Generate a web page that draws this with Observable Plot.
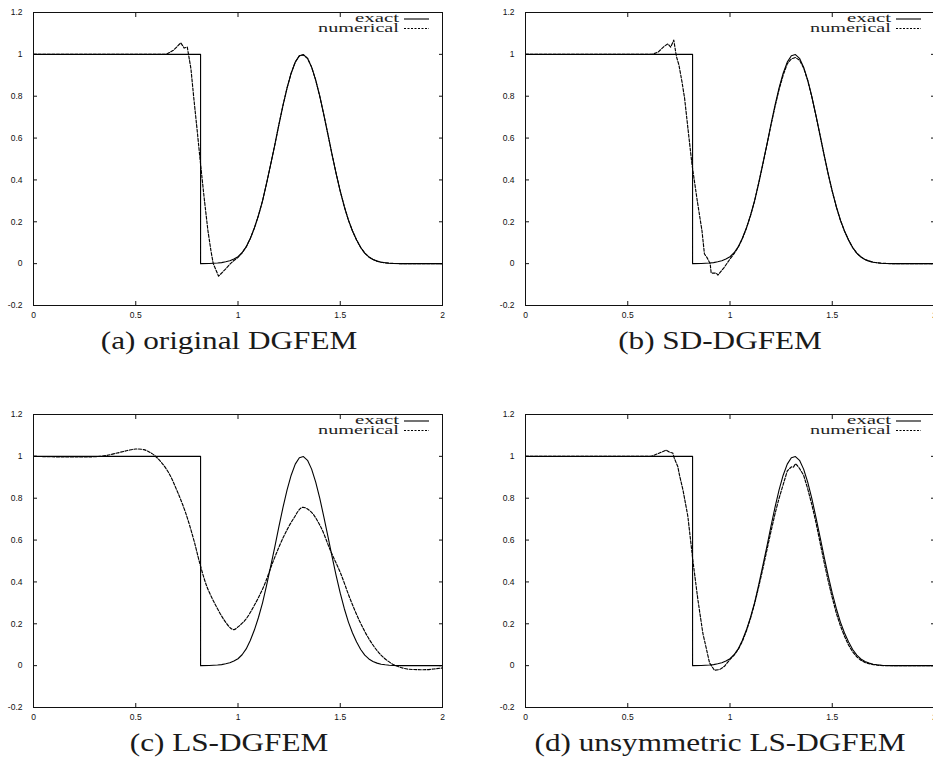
<!DOCTYPE html>
<html><head><meta charset="utf-8">
<script src="https://cdn.jsdelivr.net/npm/d3@7"></script>
<script src="https://cdn.jsdelivr.net/npm/@observablehq/plot@0.6"></script>
<style>
html,body{margin:0;padding:0;background:#fff;}
#root{position:relative;width:933px;height:769px;overflow:hidden;background:#fff;}
.panel{position:absolute;}
.cap{position:absolute;font-family:"Liberation Serif",serif;font-size:26px;line-height:26px;color:#1a1a1a;white-space:nowrap;transform:translateX(-50%) scaleX(1.2);}
</style></head><body><div id="root"></div>
<script>
// ---- axis ticks ----
const xTicks = [0, 0.5, 1, 1.5, 2];
const yTicks = [-0.2, 0, 0.2, 0.4, 0.6, 0.8, 1, 1.2];
const captions = ["(a) original DGFEM", "(b) SD-DGFEM", "(c) LS-DGFEM", "(d) unsymmetric LS-DGFEM"];
const legendLabels = ["exact", "numerical"];

// ---- exact solution (same in all panels) ----
const exactX = [0, 0.817, 0.817, 0.86, 0.90, 0.92, 0.94, 0.96, 0.98, 1.00, 1.02, 1.04, 1.06, 1.08, 1.10, 1.12, 1.14, 1.16, 1.18, 1.20, 1.22, 1.24, 1.26, 1.28, 1.30, 1.32, 1.34, 1.36, 1.38, 1.40, 1.42, 1.44, 1.46, 1.48, 1.50, 1.52, 1.54, 1.56, 1.58, 1.60, 1.62, 1.64, 1.66, 1.68, 1.70, 1.72, 1.74, 1.76, 1.80, 2.0];
const exactY = [1, 1, 0, 0.001, 0.003, 0.005, 0.009, 0.014, 0.022, 0.033, 0.052, 0.08, 0.12, 0.17, 0.23, 0.30, 0.385, 0.475, 0.568, 0.664, 0.756, 0.840, 0.910, 0.963, 0.993, 0.999, 0.981, 0.939, 0.877, 0.799, 0.710, 0.616, 0.521, 0.430, 0.346, 0.272, 0.208, 0.156, 0.113, 0.077, 0.05, 0.032, 0.02, 0.012, 0.007, 0.004, 0.002, 0.001, 0, 0];

// ---- (a) original DGFEM ----
const numAX = [0, 0.65, 0.685, 0.72, 0.737, 0.752, 0.77, 0.784, 0.80, 0.817, 0.835, 0.853, 0.868, 0.879, 0.905, 0.935, 0.963, 0.98, 1.00, 1.02, 1.04, 1.06, 1.08, 1.10, 1.12, 1.14, 1.16, 1.18, 1.20, 1.22, 1.24, 1.26, 1.28, 1.30, 1.32, 1.34, 1.36, 1.38, 1.40, 1.42, 1.44, 1.46, 1.48, 1.50, 1.52, 1.54, 1.56, 1.58, 1.60, 1.62, 1.64, 1.66, 1.68, 1.70, 1.72, 1.74, 1.76, 1.80, 2.0];
const numAY = [1, 1, 1.02, 1.055, 1.03, 1.035, 0.93, 0.79, 0.64, 0.475, 0.31, 0.157, 0.06, 0.0, -0.06, -0.03, 0.0, 0.015, 0.03, 0.052, 0.08, 0.12, 0.17, 0.23, 0.30, 0.385, 0.475, 0.568, 0.664, 0.756, 0.840, 0.910, 0.963, 0.993, 0.997, 0.981, 0.939, 0.877, 0.799, 0.710, 0.616, 0.521, 0.430, 0.346, 0.272, 0.208, 0.156, 0.113, 0.077, 0.05, 0.032, 0.02, 0.012, 0.007, 0.004, 0.002, 0.001, 0, 0];

// ---- (b) SD-DGFEM ----
const numBX = [0, 0.62, 0.65, 0.68, 0.696, 0.71, 0.725, 0.738, 0.75, 0.765, 0.778, 0.795, 0.814, 0.84, 0.863, 0.875, 0.887, 0.903, 0.908, 0.933, 0.941, 0.97, 1.00, 1.02, 1.04, 1.06, 1.08, 1.10, 1.12, 1.14, 1.16, 1.18, 1.20, 1.22, 1.24, 1.26, 1.28, 1.30, 1.32, 1.34, 1.36, 1.38, 1.40, 1.42, 1.44, 1.46, 1.48, 1.50, 1.52, 1.54, 1.56, 1.58, 1.60, 1.62, 1.64, 1.66, 1.68, 1.70, 1.72, 1.74, 1.76, 1.80, 2.0];
const numBY = [1, 1, 1.012, 1.04, 1.05, 1.035, 1.068, 0.99, 0.95, 0.87, 0.79, 0.64, 0.475, 0.30, 0.157, 0.046, 0.03, 0.0, -0.045, -0.045, -0.055, -0.02, 0.022, 0.048, 0.078, 0.118, 0.168, 0.228, 0.298, 0.382, 0.472, 0.565, 0.66, 0.75, 0.832, 0.9, 0.955, 0.978, 0.985, 0.972, 0.935, 0.875, 0.797, 0.708, 0.614, 0.52, 0.429, 0.345, 0.271, 0.207, 0.155, 0.112, 0.076, 0.05, 0.032, 0.02, 0.012, 0.007, 0.004, 0.002, 0.001, 0, 0];

// ---- (c) LS-DGFEM ----
const numCX = [0, 0.325, 0.409, 0.46, 0.5, 0.539, 0.58, 0.621, 0.662, 0.703, 0.744, 0.784, 0.817, 0.849, 0.89, 0.931, 0.963, 0.98, 1.0, 1.037, 1.077, 1.126, 1.175, 1.224, 1.273, 1.314, 1.355, 1.403, 1.452, 1.501, 1.55, 1.599, 1.648, 1.697, 1.746, 1.78, 1.827, 1.876, 1.925, 2.0];
const numCY = [1, 1.0, 1.016, 1.028, 1.035, 1.032, 1.013, 0.976, 0.92, 0.833, 0.73, 0.60, 0.475, 0.375, 0.29, 0.22, 0.18, 0.172, 0.185, 0.22, 0.283, 0.379, 0.506, 0.618, 0.705, 0.756, 0.737, 0.666, 0.55, 0.443, 0.315, 0.204, 0.116, 0.053, 0.013, -0.003, -0.016, -0.019, -0.019, -0.011];

// ---- (d) unsymmetric LS-DGFEM ----
const numDX = [0, 0.615, 0.655, 0.688, 0.704, 0.72, 0.728, 0.745, 0.753, 0.77, 0.794, 0.818, 0.843, 0.867, 0.88, 0.90, 0.924, 0.949, 0.973, 1.00, 1.02, 1.04, 1.06, 1.08, 1.10, 1.12, 1.14, 1.16, 1.18, 1.20, 1.22, 1.24, 1.26, 1.28, 1.30, 1.31, 1.32, 1.33, 1.34, 1.36, 1.38, 1.40, 1.42, 1.44, 1.46, 1.48, 1.50, 1.52, 1.54, 1.56, 1.58, 1.60, 1.62, 1.64, 1.66, 1.68, 1.70, 1.72, 1.76, 2.0];
const numDY = [1, 1, 1.016, 1.03, 1.02, 1.016, 0.99, 0.95, 0.91, 0.84, 0.713, 0.506, 0.315, 0.156, 0.10, 0.013, -0.022, -0.019, -0.003, 0.03, 0.05, 0.077, 0.115, 0.165, 0.225, 0.295, 0.375, 0.46, 0.55, 0.64, 0.725, 0.80, 0.865, 0.93, 0.95, 0.948, 0.965, 0.955, 0.942, 0.91, 0.845, 0.77, 0.685, 0.59, 0.495, 0.405, 0.325, 0.25, 0.19, 0.14, 0.098, 0.066, 0.042, 0.026, 0.015, 0.009, 0.005, 0.002, 0, 0];

const panels = [
  {nx: numAX, ny: numAY, curve: "linear", left: 0, top: 0, width: 466, ml: 33, cx: 229, cb: 350},
  {nx: numBX, ny: numBY, curve: "linear", left: 466, top: 0, width: 480, ml: 59, cx: 720, cb: 350},
  {nx: numCX, ny: numCY, curve: "catmull-rom", left: 0, top: 402, width: 466, ml: 33, cx: 229, cb: 752},
  {nx: numDX, ny: numDY, curve: "linear", left: 466, top: 402, width: 480, ml: 59, cx: 720, cb: 752}
];

const fmt = d => String(d);
const root = document.getElementById("root");

panels.forEach((pp, i) => {
  const plot = Plot.plot({
    width: pp.width,
    height: 330,
    marginLeft: pp.ml,
    marginRight: pp.width - pp.ml - 409,
    marginTop: 12,
    marginBottom: 25,
    x: {domain: [0, 2]},
    y: {domain: [-0.2, 1.2]},
    style: {fontFamily: "'Liberation Sans', Arial, sans-serif", fontSize: "8.5px", color: "#111", background: "transparent", overflow: "visible"},
    marks: [
      Plot.axisX({ticks: xTicks, tickSize: -4, tickPadding: 10, tickFormat: fmt, label: null}),
      Plot.axisX({ticks: xTicks, anchor: "top", tickSize: -4, fill: "none", label: null}),
      Plot.axisY({ticks: yTicks, tickSize: -4, tickPadding: 15, tickFormat: fmt, label: null}),
      Plot.axisY({ticks: yTicks, anchor: "right", tickSize: -4, fill: "none", label: null}),
      Plot.line({length: exactX.length}, {x: exactX, y: exactY, stroke: "#000", strokeWidth: 1.1}),
      Plot.line({length: pp.nx.length}, {x: pp.nx, y: pp.ny, stroke: "#000", strokeWidth: 1.15, strokeDasharray: "3,1.6", curve: pp.curve}),
      Plot.frame({stroke: "#111", strokeWidth: 1})
    ]
  });
  plot.classList.add("panel");
  plot.style.left = pp.left + "px";
  plot.style.top = pp.top + "px";
  root.appendChild(plot);

  // legend (gnuplot key, top right inside the frame)
  const svg = d3.select(plot);
  const R = plot.scale("x").apply(2);
  const T = plot.scale("y").apply(1.2);
  const g = svg.append("g").attr("font-family", "'Liberation Serif', serif").attr("font-size", 12.5).attr("fill", "#222");
  g.append("text").attr("x", R - 43).attr("y", T + 10).attr("text-anchor", "end")
    .attr("textLength", 44).attr("lengthAdjust", "spacingAndGlyphs").text(legendLabels[0]);
  g.append("text").attr("x", R - 43).attr("y", T + 20).attr("text-anchor", "end")
    .attr("textLength", 81).attr("lengthAdjust", "spacingAndGlyphs").text(legendLabels[1]);
  g.append("line").attr("x1", R - 38).attr("x2", R - 13).attr("y1", T + 7).attr("y2", T + 7)
    .attr("stroke", "#000").attr("stroke-width", 1.1);
  g.append("line").attr("x1", R - 38).attr("x2", R - 13).attr("y1", T + 16.5).attr("y2", T + 16.5)
    .attr("stroke", "#000").attr("stroke-width", 1.15).attr("stroke-dasharray", "2,1.5");

  const cap = document.createElement("div");
  cap.className = "cap";
  cap.textContent = captions[i];
  cap.style.left = pp.cx + "px";
  cap.style.top = (pp.cb - 22) + "px";
  root.appendChild(cap);
});
</script></body></html>
